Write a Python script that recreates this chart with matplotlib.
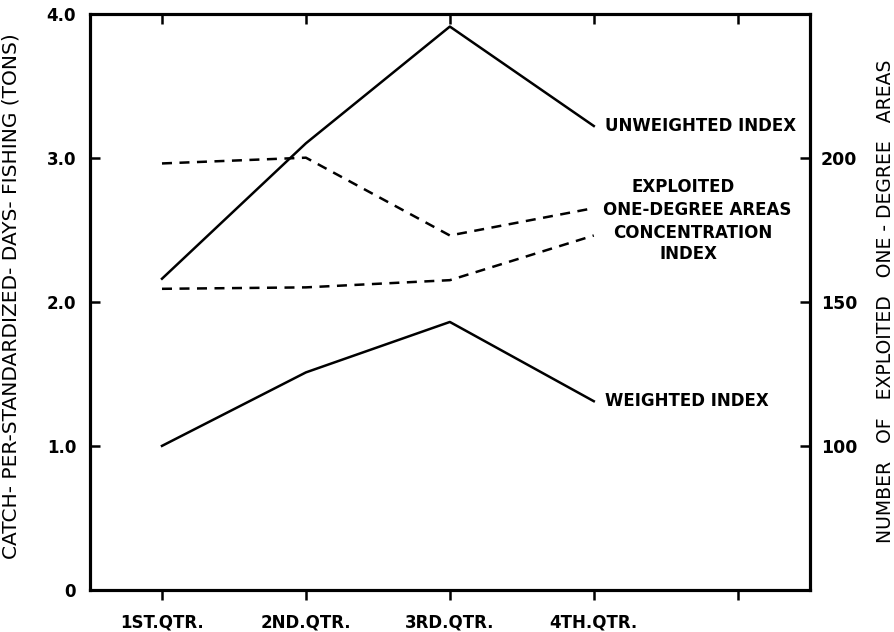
import numpy as np
import matplotlib.pyplot as plt

# quarterly indices
quarters = ["1ST.QTR.", "2ND.QTR.", "3RD.QTR.", "4TH.QTR."]
unweighted = [2.16, 3.10, 3.91, 3.22]
weighted = [1.00, 1.51, 1.86, 1.31]
concentration = [2.09, 2.10, 2.15, 2.46]
# number of exploited one-degree areas (right scale)
exploited = [198, 200, 173, 182.5]

x = np.arange(1, len(quarters) + 1)

plt.rcParams['font.family'] = ['DejaVu Sans']
fig = plt.figure(figsize=(8.94, 6.32), dpi=100)
ax = fig.add_axes([0.1007, 0.0665, 0.805, 0.912])
ax2 = ax.twinx()
ax3 = ax.twiny()   # only for the inward ticks along the top

lw = 1.8
dash = (0, (4, 3))
ax.plot(x, unweighted, color='black', lw=lw)
ax.plot(x, weighted, color='black', lw=lw)
ax.plot(x, concentration, color='black', lw=lw, linestyle=dash)
ax2.plot(x, exploited, color='black', lw=lw, linestyle=dash)

ax.set_xlim(0.5, 5.5)
ax.set_ylim(0, 4.0)
ax2.set_ylim(50, 250)
ax3.set_xlim(0.5, 5.5)

ax.set_xticks([1, 2, 3, 4, 5])
ax.set_xticklabels(quarters + [""], fontsize=12, fontweight='bold')
ax.set_yticks([0, 1, 2, 3, 4])
ax.set_yticklabels(["0", "1.0", "2.0", "3.0", "4.0"], fontsize=12, fontweight='bold')
ax2.set_yticks([100, 150, 200])
ax2.set_yticklabels(["100", "150", "200"], fontsize=12.5, fontweight='bold')
ax3.set_xticks([1, 2, 3, 4, 5])
ax3.set_xticklabels([])

ax.tick_params(axis='x', direction='out', length=7, width=1.8, pad=10, top=False)
ax.tick_params(axis='y', direction='in', length=7, width=1.8, pad=10, right=False)
ax2.tick_params(axis='y', direction='in', length=7, width=1.8, pad=8)
ax3.tick_params(axis='x', direction='in', length=7, width=1.8, labeltop=False)

for a in (ax, ax2, ax3):
    for s in a.spines.values():
        s.set_linewidth(2.2)

ax.set_ylabel("CATCH- PER-STANDARDIZED- DAYS- FISHING (TONS)", fontsize=14.5)
ax.yaxis.set_label_coords(-0.097, 0.51)
ax2.set_ylabel("NUMBER   OF   EXPLOITED   ONE - DEGREE   AREAS", fontsize=13.5, rotation=90)
ax2.yaxis.set_label_coords(1.092, 0.5)

lab = dict(fontsize=12, fontweight='bold', va='center')
ax.text(4.08, 3.22, "UNWEIGHTED INDEX", ha='left', **lab)
ax.text(4.62, 2.80, "EXPLOITED", ha='center', **lab)
ax.text(4.72, 2.64, "ONE-DEGREE AREAS", ha='center', **lab)
ax.text(4.69, 2.48, "CONCENTRATION", ha='center', **lab)
ax.text(4.66, 2.33, "INDEX", ha='center', **lab)
ax.text(4.08, 1.31, "WEIGHTED INDEX", ha='left', **lab)

fig.savefig("out.png", dpi=100)
